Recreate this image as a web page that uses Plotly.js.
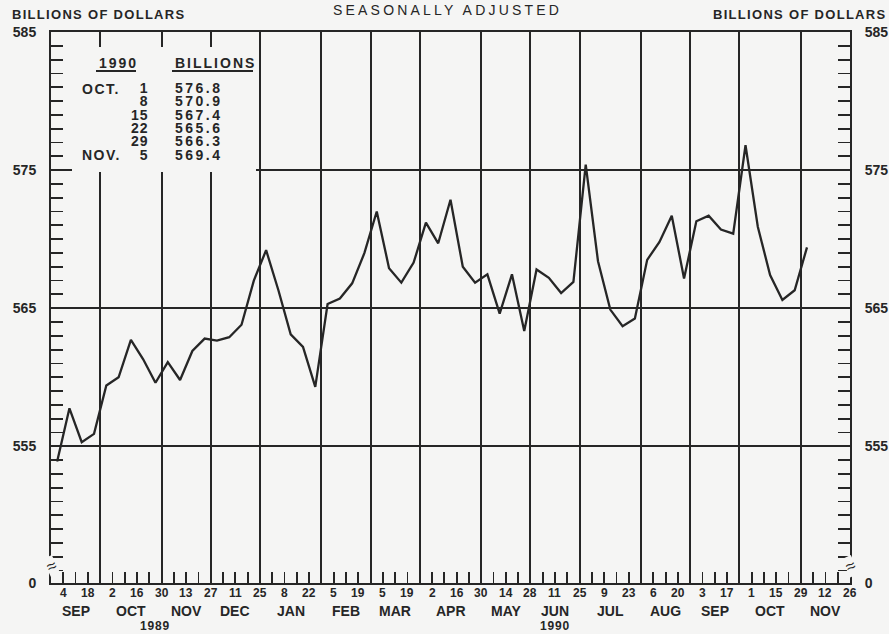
<!DOCTYPE html>
<html><head><meta charset="utf-8">
<script src="https://cdn.plot.ly/plotly-3.0.1.min.js"></script>
<style>html,body{margin:0;padding:0;background:#f5f5f4;}</style>
</head><body><div id="chart" style="width:889px;height:634px;"></div>
<script>
// ---- data (weekly, weeks ending Mondays, Sep 4 1989 .. Nov 5 1990) ----
const values = [
  553.9, 557.75, 555.3, 555.9,                 // Sep 1989
  559.4, 560.0, 562.7, 561.3, 559.6,           // Oct
  561.1, 559.8, 561.9, 562.8,                  // Nov
  562.65, 562.9, 563.8, 567.0,                 // Dec
  569.2, 566.3, 563.1, 562.2, 559.3,           // Jan 1990
  565.3, 565.7, 566.8, 569.0,                  // Feb
  572.0, 567.9, 566.85, 568.3,                 // Mar
  571.2, 569.7, 572.85, 568.0, 566.85,         // Apr
  567.45, 564.6, 567.45, 563.35,               // May
  567.8, 567.2, 566.1, 566.9,                  // Jun
  575.4, 568.4, 564.9, 563.7, 564.25,          // Jul
  568.5, 569.8, 571.7, 567.15,                 // Aug
  571.3, 571.7, 570.7, 570.4,                  // Sep
  576.8, 570.9, 567.4, 565.6, 566.3,           // Oct
  569.4                                        // Nov
];
const weeksPerMonth = [4,5,4,4,5,4,4,5,4,4,5,4,4,5,4];
const monthNames = ['SEP','OCT','NOV','DEC','JAN','FEB','MAR','APR','MAY','JUN','JUL','AUG','SEP','OCT','NOV'];
const dayLabels = ['4','18','2','16','30','13','27','11','25','8','22','5','19','5','19','2','16','30',
                   '14','28','11','25','9','23','6','20','3','17','1','15','29','12','26'];
const yearLabels = ['1989','1990'];
const monthsPerYear = [4, 11];
const yLabelValues = [555, 565, 575, 585];
const breakLabel = '0';
const tableHeaders = ['1990', 'BILLIONS'];
const tableMonths = ['OCT.', '', '', '', '', 'NOV.'];
const tableDays = ['1', '8', '15', '22', '29', '5'];
const tableValues = ['576.8', '570.9', '567.4', '565.6', '566.3', '569.4'];
const titleText = 'SEASONALLY ADJUSTED';
const unitText = 'BILLIONS OF DOLLARS';

// ---- layout helpers ----
const BG = '#f5f5f4', INK = '#262626';
const FONT = '"Liberation Sans", Arial, sans-serif';
const M = {l: 51, r: 39, t: 32, b: 51};
const PW = 889 - M.l - M.r, PH = 634 - M.t - M.b;
const px = x => (x - M.l) / PW;
const py = y => (M.t + PH - y) / PH;
const yBottom = 545.1, yTop = 585;
const spaced = (t, s) => '<span style="letter-spacing:' + s + 'px">' + t + '</span>';

let bounds = [0];
weeksPerMonth.forEach(n => bounds.push(bounds[bounds.length - 1] + n));
const totalWeeks = bounds[bounds.length - 1];
const weekTicks = [];
for (let i = 1; i < totalWeeks; i++) weekTicks.push(i);
const yMinor = [];
for (let v = Math.ceil(yBottom); v < yTop; v++) yMinor.push(v);

const xs = values.map((v, i) => i + 0.5);

const yTickVals = [yBottom].concat(yLabelValues);
const yTickText = [breakLabel].concat(yLabelValues.map(String));

const traces = [
  {x: xs, y: values, mode: 'lines', line: {color: INK, width: 2.3}, hoverinfo: 'skip', yaxis: 'y'},
  {x: xs, y: values, mode: 'lines', line: {color: 'rgba(0,0,0,0)', width: 0}, hoverinfo: 'skip', yaxis: 'y2'}
];

const annotations = [];
// day labels
dayLabels.forEach((t, i) => annotations.push({
  text: '<b>' + t + '</b>', x: 2 * i + 1, xref: 'x', y: py(593), yref: 'paper',
  showarrow: false, xanchor: 'center', yanchor: 'middle', font: {family: FONT, size: 12, color: INK}
}));
// month labels
monthNames.forEach((t, i) => annotations.push({
  text: '<b>' + t + '</b>', x: (bounds[i] + bounds[i + 1]) / 2, xref: 'x', y: py(611), yref: 'paper',
  showarrow: false, xanchor: 'center', yanchor: 'middle', font: {family: FONT, size: 14, color: INK}
}));
// year labels
let mStart = 0;
yearLabels.forEach((t, i) => {
  const a = bounds[mStart], b = bounds[mStart + monthsPerYear[i]];
  mStart += monthsPerYear[i];
  annotations.push({
    text: '<b>' + spaced(t, 0.8) + '</b>', x: (a + b) / 2, xref: 'x', y: py(626), yref: 'paper',
    showarrow: false, xanchor: 'center', yanchor: 'middle', font: {family: FONT, size: 12, color: INK}
  });
});
// titles
annotations.push({text: spaced(titleText, 3.2), x: px(447), xref: 'paper', y: py(10), yref: 'paper',
  showarrow: false, xanchor: 'center', yanchor: 'middle', font: {family: FONT, size: 14, color: INK}});
annotations.push({text: '<b>' + spaced(unitText, 1.3) + '</b>', x: px(10), xref: 'paper', y: py(15), yref: 'paper',
  showarrow: false, xanchor: 'left', yanchor: 'middle', font: {family: FONT, size: 13, color: INK}});
annotations.push({text: '<b>' + spaced(unitText, 1.3) + '</b>', x: px(888), xref: 'paper', y: py(15), yref: 'paper',
  showarrow: false, xanchor: 'right', yanchor: 'middle', font: {family: FONT, size: 13, color: INK}});
// break markers
[0, totalWeeks].forEach(xv => annotations.push({
  text: '≈', x: xv, xref: 'x', y: 546.3, yref: 'y', showarrow: false, xanchor: 'center', yanchor: 'middle',
  bgcolor: BG, borderpad: 0, textangle: -25, font: {family: FONT, size: 17, color: INK}
}));
// table
const tFont = {family: FONT, size: 14, color: INK};
const rowStep = 13.3;                       // tight line pitch of the inset table
const tightFont = {family: FONT, size: rowStep / 1.3, color: INK};
const big = (t, s) => '<b><span style="font-size:14px;letter-spacing:' + s + 'px">' + t + '</span></b>';
const tableMid = 88.5 + rowStep * (tableDays.length - 1) / 2;
annotations.push({text: '<b>' + spaced(tableHeaders[0], 2) + '</b>', x: px(97), xref: 'paper', y: py(63), yref: 'paper',
  showarrow: false, xanchor: 'left', yanchor: 'middle', font: tFont});
annotations.push({text: '<b>' + spaced(tableHeaders[1], 2) + '</b>', x: px(173), xref: 'paper', y: py(63), yref: 'paper',
  showarrow: false, xanchor: 'left', yanchor: 'middle', font: tFont});
tableMonths.forEach((m, i) => {
  if (m) annotations.push({text: '<b>' + spaced(m, 1.5) + '</b>', x: px(80), xref: 'paper', y: py(88.5 + i * rowStep), yref: 'paper',
    showarrow: false, xanchor: 'left', yanchor: 'middle', font: tFont});
});
annotations.push({text: tableDays.map(d => big(d, 1)).join('<br>'), x: px(151), xref: 'paper',
  y: py(tableMid), yref: 'paper', showarrow: false, xanchor: 'right', yanchor: 'middle', align: 'right', font: tightFont});
annotations.push({text: tableValues.map(v => big(v, 2.5)).join('<br>'), x: px(173), xref: 'paper',
  y: py(tableMid), yref: 'paper', showarrow: false, xanchor: 'left', yanchor: 'middle', align: 'left', font: tightFont});

const shapes = [
  // blank panel behind the table
  {type: 'rect', xref: 'paper', yref: 'paper', x0: px(72), x1: px(256), y0: py(172), y1: py(47),
   fillcolor: BG, line: {width: 0}, layer: 'above'},
  // header underlines
  {type: 'line', xref: 'paper', yref: 'paper', x0: px(96), x1: px(136), y0: py(71), y1: py(71),
   line: {color: INK, width: 1.8}, layer: 'above'},
  {type: 'line', xref: 'paper', yref: 'paper', x0: px(172), x1: px(253), y0: py(71), y1: py(71),
   line: {color: INK, width: 1.8}, layer: 'above'}
];

const yCommon = {
  range: [yBottom, yTop], tickmode: 'array', tickvals: yTickVals, ticktext: yTickText,
  ticks: '', showline: true, linecolor: INK, linewidth: 2, zeroline: false,
  tickfont: {family: FONT, size: 14, color: INK, weight: 'bold'}, ticklabelstandoff: 10,
  minor: {tickmode: 'array', tickvals: yMinor, ticks: 'inside', ticklen: 12, tickwidth: 1.8, tickcolor: INK, showgrid: false},
  fixedrange: true
};

const layout = {
  width: 889, height: 634, margin: M, paper_bgcolor: BG, plot_bgcolor: BG, showlegend: false,
  xaxis: {
    range: [0, totalWeeks], tickmode: 'array', tickvals: bounds, showticklabels: false, ticks: '',
    showgrid: true, gridcolor: INK, gridwidth: 2, zeroline: false,
    showline: true, linecolor: INK, linewidth: 2, mirror: true,
    minor: {tickmode: 'array', tickvals: weekTicks, ticks: 'inside', ticklen: 11, tickwidth: 1.8, tickcolor: INK, showgrid: false},
    fixedrange: true
  },
  yaxis: Object.assign({}, yCommon, {side: 'left', showgrid: true, gridcolor: INK, gridwidth: 2}),
  yaxis2: Object.assign({}, yCommon, {side: 'right', overlaying: 'y', showgrid: false}),
  annotations: annotations,
  shapes: shapes
};

Plotly.newPlot('chart', traces, layout, {staticPlot: true, displayModeBar: false});
</script></body></html>
